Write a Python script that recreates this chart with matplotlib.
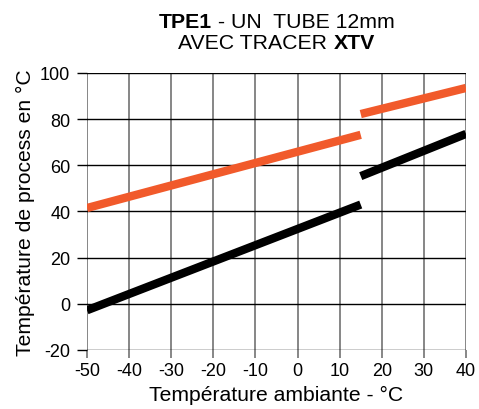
import matplotlib
matplotlib.use("Agg")
import matplotlib.pyplot as plt
import numpy as np

plt.rcParams['font.family'] = ['Liberation Sans', 'DejaVu Sans']
plt.rcParams['axes.unicode_minus'] = False

# donnees
x_bas = [-50, 15]
orange_bas = [41.5, 73.2]
noir_bas = [-2.8, 43]
x_haut = [15, 40]
orange_haut = [82.2, 93.5]
noir_haut = [55.3, 73.6]
xticks = [-50, -40, -30, -20, -10, 0, 10, 20, 30, 40]
yticks = [-20, 0, 20, 40, 60, 80, 100]
titre1 = [("TPE1", "bold"), (" - UN  TUBE 12mm", "normal")]
titre2 = [("AVEC TRACER ", "normal"), ("XTV", "bold")]

fig = plt.figure(figsize=(4.79, 4.10), dpi=100)
ax = fig.add_axes([0.1816, 0.144, 0.7913, 0.6756])

orange = '#f15a2b'
ax.plot(x_bas, orange_bas, color=orange, lw=6, solid_capstyle='butt')
ax.plot(x_haut, orange_haut, color=orange, lw=6, solid_capstyle='butt')
ax.plot(x_bas, noir_bas, color='black', lw=6, solid_capstyle='butt')
ax.plot(x_haut, noir_haut, color='black', lw=6, solid_capstyle='butt')

ax.set_xlim(-50, 40)
ax.set_ylim(-20, 100)
ax.set_xticks(xticks)
ax.set_yticks(yticks)
for v in xticks:
    ax.axvline(v, color='#666666', lw=1.1, zorder=0)
for v in yticks:
    ax.axhline(v, color='black', lw=1.0, zorder=0)
for s in ax.spines.values():
    s.set_visible(False)
ax.tick_params(axis='x', length=6, width=1.1, color='#666666', labelsize=13, pad=3)
ax.tick_params(axis='y', length=7, width=1.0, color='black', labelsize=13, pad=5)

ax.set_xlabel("Température ambiante - °C", fontsize=15.2, labelpad=4)
ax.set_ylabel("Température de process en °C", fontsize=15.2, labelpad=4)

# titre en deux lignes avec parties en gras
fig.canvas.draw()
r = fig.canvas.get_renderer()
cx = (0.1816 + 0.1816 + 0.7913) / 2
for morceaux, yb in [(titre1, 1 - 28 / 410), (titre2, 1 - 49 / 410)]:
    txts = []
    for s, w in morceaux:
        txts.append(fig.text(0, yb, s, fontsize=15.3, fontweight=w, va='baseline'))
    largeurs = [t.get_window_extent(r).width / fig.bbox.width for t in txts]
    x0 = cx - sum(largeurs) / 2
    for t, lw_ in zip(txts, largeurs):
        t.set_x(x0)
        x0 += lw_

fig.savefig("out.png", dpi=100)
